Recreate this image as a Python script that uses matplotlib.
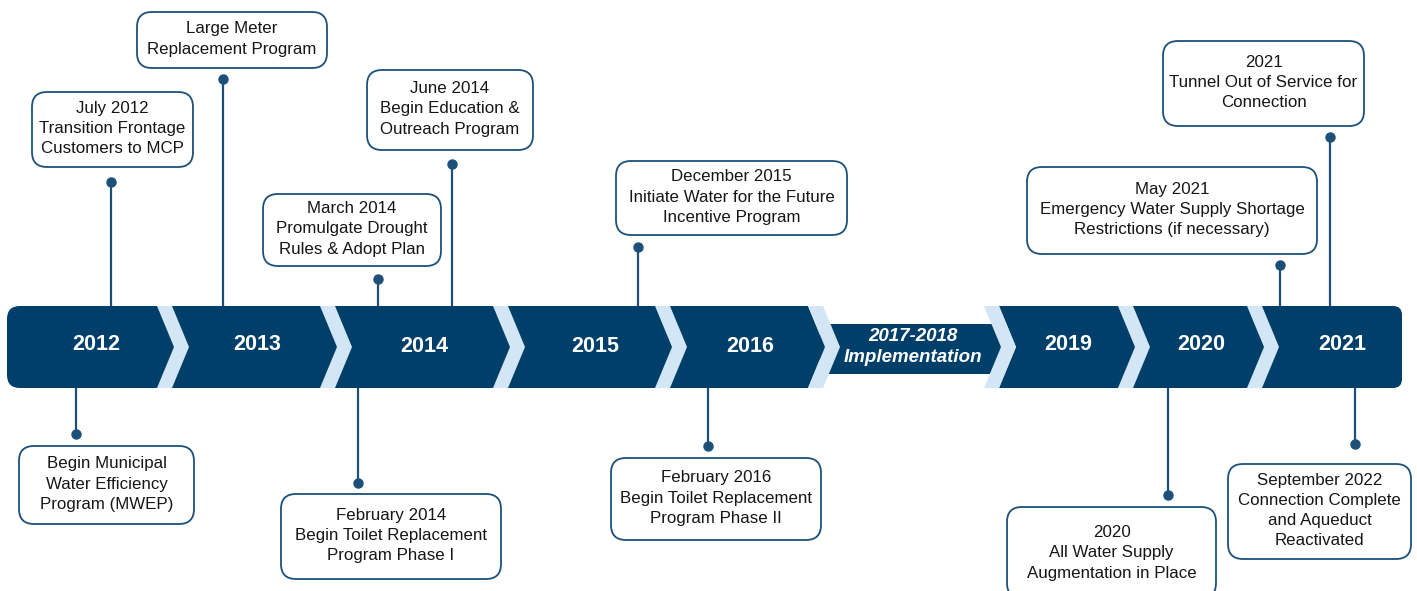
import matplotlib
matplotlib.use('Agg')
import matplotlib.pyplot as plt
from matplotlib.patches import FancyBboxPatch, Polygon, Rectangle

plt.rcParams['font.family'] = ['Liberation Sans', 'DejaVu Sans']

## ---- data ----
years = ['2012', '2013', '2014', '2015', '2016', '2017-2018\nImplementation', '2019', '2020', '2021']
year_x = [96, 257, 424, 595, 750, 913, 1068, 1201, 1342]
year_y = [345, 345, 347, 346, 346, 346, 345, 344, 344]

events = [
    'July 2012\nTransition Frontage\nCustomers to MCP',
    'Large Meter\nReplacement Program',
    'March 2014\nPromulgate Drought\nRules & Adopt Plan',
    'June 2014\nBegin Education &\nOutreach Program',
    'December 2015\nInitiate Water for the Future\nIncentive Program',
    'May 2021\nEmergency Water Supply Shortage\nRestrictions (if necessary)',
    '2021\nTunnel Out of Service for\nConnection',
    'Begin Municipal\nWater Efficiency\nProgram (MWEP)',
    'February 2014\nBegin Toilet Replacement\nProgram Phase I',
    'February 2016\nBegin Toilet Replacement\nProgram Phase II',
    '2020\nAll Water Supply\nAugmentation in Place',
    'September 2022\nConnection Complete\nand Aqueduct\nReactivated',
]
# dot position along the timeline and which side of the band
event_x = [111, 223, 378, 452, 638, 1280, 1330, 76, 358, 708, 1168, 1355]
side = ['up'] * 7 + ['down'] * 5

## ---- layout (pixels) ----
dot_y = [182, 79, 279, 164, 247, 265, 137, 434, 483, 446, 495, 444]
boxes = [  # x0, y0, x1, y1
    (32, 92, 193, 167),
    (137, 12, 327, 68),
    (263, 194, 441, 266),
    (367, 70, 533, 150),
    (616, 161, 847, 235),
    (1027, 167, 1317, 254),
    (1163, 41, 1364, 126),
    (19, 446, 194, 524),
    (281, 494, 501, 579),
    (611, 458, 821, 540),
    (1007, 507, 1216, 598),
    (1228, 464, 1411, 559),
]
text_y = [None] * 10 + [553, None]

navy = '#003f69'
light = '#d3e6f5'
edge = '#1d5079'

top, bot = 306, 388
mid = (top + bot) / 2.
chev = [157, 320, 493, 655, 808, 984, 1118, 1247]
cw, cd = 15, 17

fig = plt.figure(figsize=(14.17, 5.91), dpi=100)
ax = fig.add_axes([0, 0, 1, 1])
ax.set_xlim(0, 1417)
ax.set_ylim(591, 0)
ax.axis('off')

## band: left piece, narrow middle, right piece
ax.add_patch(FancyBboxPatch((7, top), 80, bot - top, boxstyle='round,pad=0,rounding_size=13',
                            fc=navy, ec='none', zorder=1))
ax.add_patch(Polygon([(40, top), (808, top), (808 + cd, mid), (808, bot), (40, bot)],
                     closed=True, fc=navy, ec='none', zorder=1))
ax.add_patch(Rectangle((820, 324), 1001 - 820, 50, fc=navy, ec='none', zorder=1))
ax.add_patch(Polygon([(984 + cw, top), (1370, top), (1370, bot), (984 + cw, bot), (984 + cw + cd, mid)],
                     closed=True, fc=navy, ec='none', zorder=1))
ax.add_patch(FancyBboxPatch((1330, top), 1402 - 1330, bot - top, boxstyle='round,pad=0,rounding_size=9',
                            fc=navy, ec='none', zorder=1))
for c in chev:
    ax.add_patch(Polygon([(c, top), (c + cw, top), (c + cw + cd, mid), (c + cw, bot), (c, bot), (c + cd, mid)],
                         closed=True, fc=light, ec='none', zorder=2))

for lab, x, y in zip(years, year_x, year_y):
    if '\n' in lab:
        ax.text(x, y + 1, lab, ha='center', va='center', color='white', fontsize=13.5,
                fontweight='bold', fontstyle='italic', linespacing=1.35, zorder=3)
    else:
        ax.text(x, y, lab, ha='center', va='center', color='white', fontsize=15.5,
                fontweight='bold', zorder=3)

## events
for lab, x, s, dy, b, ty in zip(events, event_x, side, dot_y, boxes, text_y):
    y_band = top if s == 'up' else bot
    ax.plot([x, x], [dy, y_band], color=edge, lw=1.6, zorder=0.5, solid_capstyle='butt')
    ax.plot(x, dy, 'o', color=edge, ms=6.5, zorder=3)
    x0, y0, x1, y1 = b
    ax.add_patch(FancyBboxPatch((x0, y0), x1 - x0, y1 - y0, boxstyle='round,pad=0,rounding_size=15',
                                fc='white', ec=edge, lw=1.3, zorder=2))
    cy = ty if ty is not None else (y0 + y1) / 2. - 1
    ax.text((x0 + x1) / 2., cy, lab, ha='center', va='center', fontsize=12.2,
            color='#161616', linespacing=1.42, zorder=3)

fig.savefig('out.png', dpi=100)
